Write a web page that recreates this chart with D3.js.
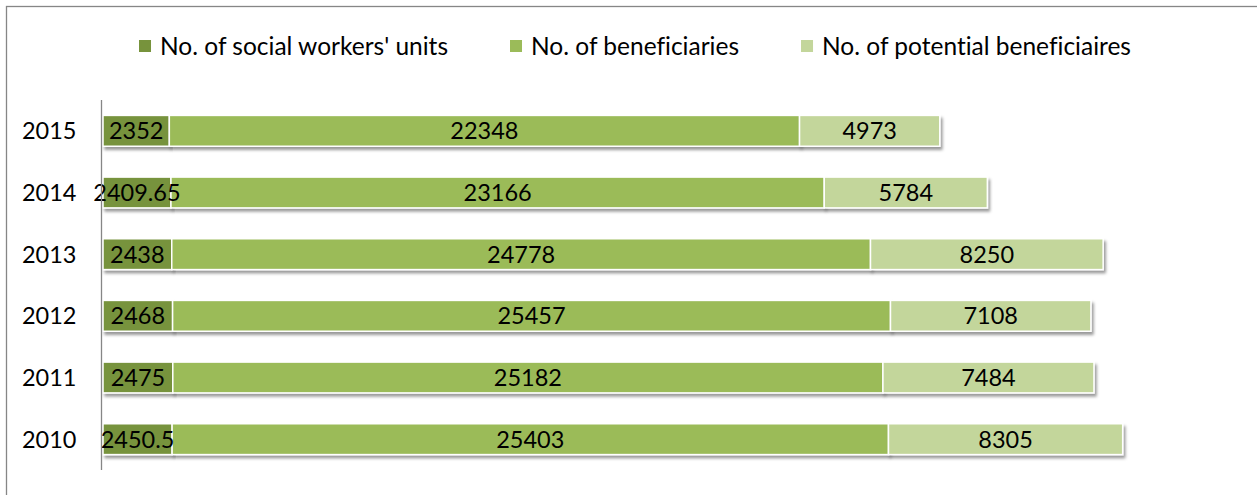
<!DOCTYPE html>
<html>
<head>
<meta charset="utf-8">
<script src="https://cdn.jsdelivr.net/npm/d3@7"></script>
<style>
  html, body { margin: 0; padding: 0; background: #fff; }
  svg { display: block; }
  text { font-family: Lato, "Open Sans", sans-serif; fill: #000;
         font-variant-ligatures: none; font-feature-settings: "liga" 0, "clig" 0, "dlig" 0; }
</style>
</head>
<body>
<svg id="chart" width="1257" height="495"></svg>
<script>
// data
var years = ["2015", "2014", "2013", "2012", "2011", "2010"];
var socialWorkers = [2352, 2409.65, 2438, 2468, 2475, 2450.5];
var beneficiaries = [22348, 23166, 24778, 25457, 25182, 25403];
var potential = [4973, 5784, 8250, 7108, 7484, 8305];
var seriesNames = ["No. of social workers' units", "No. of beneficiaries", "No. of potential beneficiaires"];
var seriesColors = ["#77933c", "#9bbb59", "#c3d69b"];

var svg = d3.select("#chart");
var width = 1257, height = 495;
var fontSize = 23.5;
var legendSize = 24.5;

// outer frame (right / bottom run off the picture)
svg.append("rect")
  .attr("x", 6.5).attr("y", 6.5)
  .attr("width", width + 10).attr("height", height + 10)
  .attr("fill", "#fff")
  .attr("stroke", "#868686")
  .attr("stroke-width", 1.3);

// soft shadow like the office chart
var defs = svg.append("defs");
var flt = defs.append("filter").attr("id", "shadow")
  .attr("x", "-5%").attr("y", "-30%").attr("width", "110%").attr("height", "180%");
flt.append("feDropShadow")
  .attr("dx", 2).attr("dy", 3)
  .attr("stdDeviation", 1.8)
  .attr("flood-color", "#000")
  .attr("flood-opacity", 0.4);

var rows = years.map(function(y, i){
  return { year: y, a: socialWorkers[i], b: beneficiaries[i], c: potential[i] };
});

var keys = ["a", "b", "c"];
var stack = d3.stack().keys(keys);
var layers = stack(rows);

var x = d3.scaleLinear().domain([0, 40000]).range([103, 1231]);
var y = d3.scaleBand().domain(years).range([100, 470])
  .paddingInner(0.5).paddingOuter(0.25);

var layerG = svg.selectAll("g.layer")
  .data(layers)
  .enter().append("g")
    .attr("class", "layer")
    .attr("fill", function(d, i){ return seriesColors[i]; });

layerG.selectAll("rect")
  .data(function(d){ return d; })
  .enter().append("rect")
    .attr("x", function(d){ return x(d[0]); })
    .attr("y", function(d){ return y(d.data.year); })
    .attr("width", function(d){ return x(d[1]) - x(d[0]); })
    .attr("height", y.bandwidth())
    .attr("stroke", "#fff")
    .attr("stroke-width", 1.5)
    .attr("filter", "url(#shadow)");

// data labels go on top of every bar, so the long ones can spill over
var labels = [];
layers.forEach(function(layer){
  layer.forEach(function(d){
    labels.push({ x0: d[0], x1: d[1], year: d.data.year, value: d.data[layer.key] });
  });
});

svg.append("g").selectAll("text")
  .data(labels)
  .enter().append("text")
    .attr("x", function(d){ return (x(d.x0) + x(d.x1)) / 2; })
    .attr("y", function(d){ return y(d.year) + y.bandwidth() / 2; })
    .attr("text-anchor", "middle")
    .attr("dy", "0.36em")
    .style("font-size", fontSize + "px")
    .text(function(d){ return d.value; });

// category axis on the left
var yAxis = svg.append("g")
  .attr("transform", "translate(101.5,0)")
  .call(d3.axisLeft(y).tickSize(0).tickPadding(25));
yAxis.select(".domain").attr("stroke", "#868686").attr("stroke-width", 1.3)
  .attr("d", "M0,100V470");
yAxis.selectAll("text")
  .style("font-size", fontSize + "px")
  .style("font-family", "Lato, 'Open Sans', sans-serif")
  .attr("fill", "#000")
  .attr("dy", "0.36em");

// legend, centred along the top
var legend = svg.append("g");
var items = legend.selectAll("g")
  .data(seriesNames)
  .enter().append("g");
items.append("rect")
  .attr("width", 12).attr("height", 12)
  .attr("y", 40)
  .attr("fill", function(d, i){ return seriesColors[i]; });
items.append("text")
  .attr("x", 21)
  .attr("y", 46)
  .attr("dy", "0.36em")
  .style("font-size", legendSize + "px")
  .text(function(d){ return d; });

var widths = [];
items.each(function(){ widths.push(this.getBBox().width); });
var gap = 62;
var total = d3.sum(widths) + gap * (widths.length - 1);
var pos = 635 - total / 2;
items.attr("transform", function(d, i){
  var t = "translate(" + pos + ",0)";
  pos += widths[i] + gap;
  return t;
});
</script>
</body>
</html>
